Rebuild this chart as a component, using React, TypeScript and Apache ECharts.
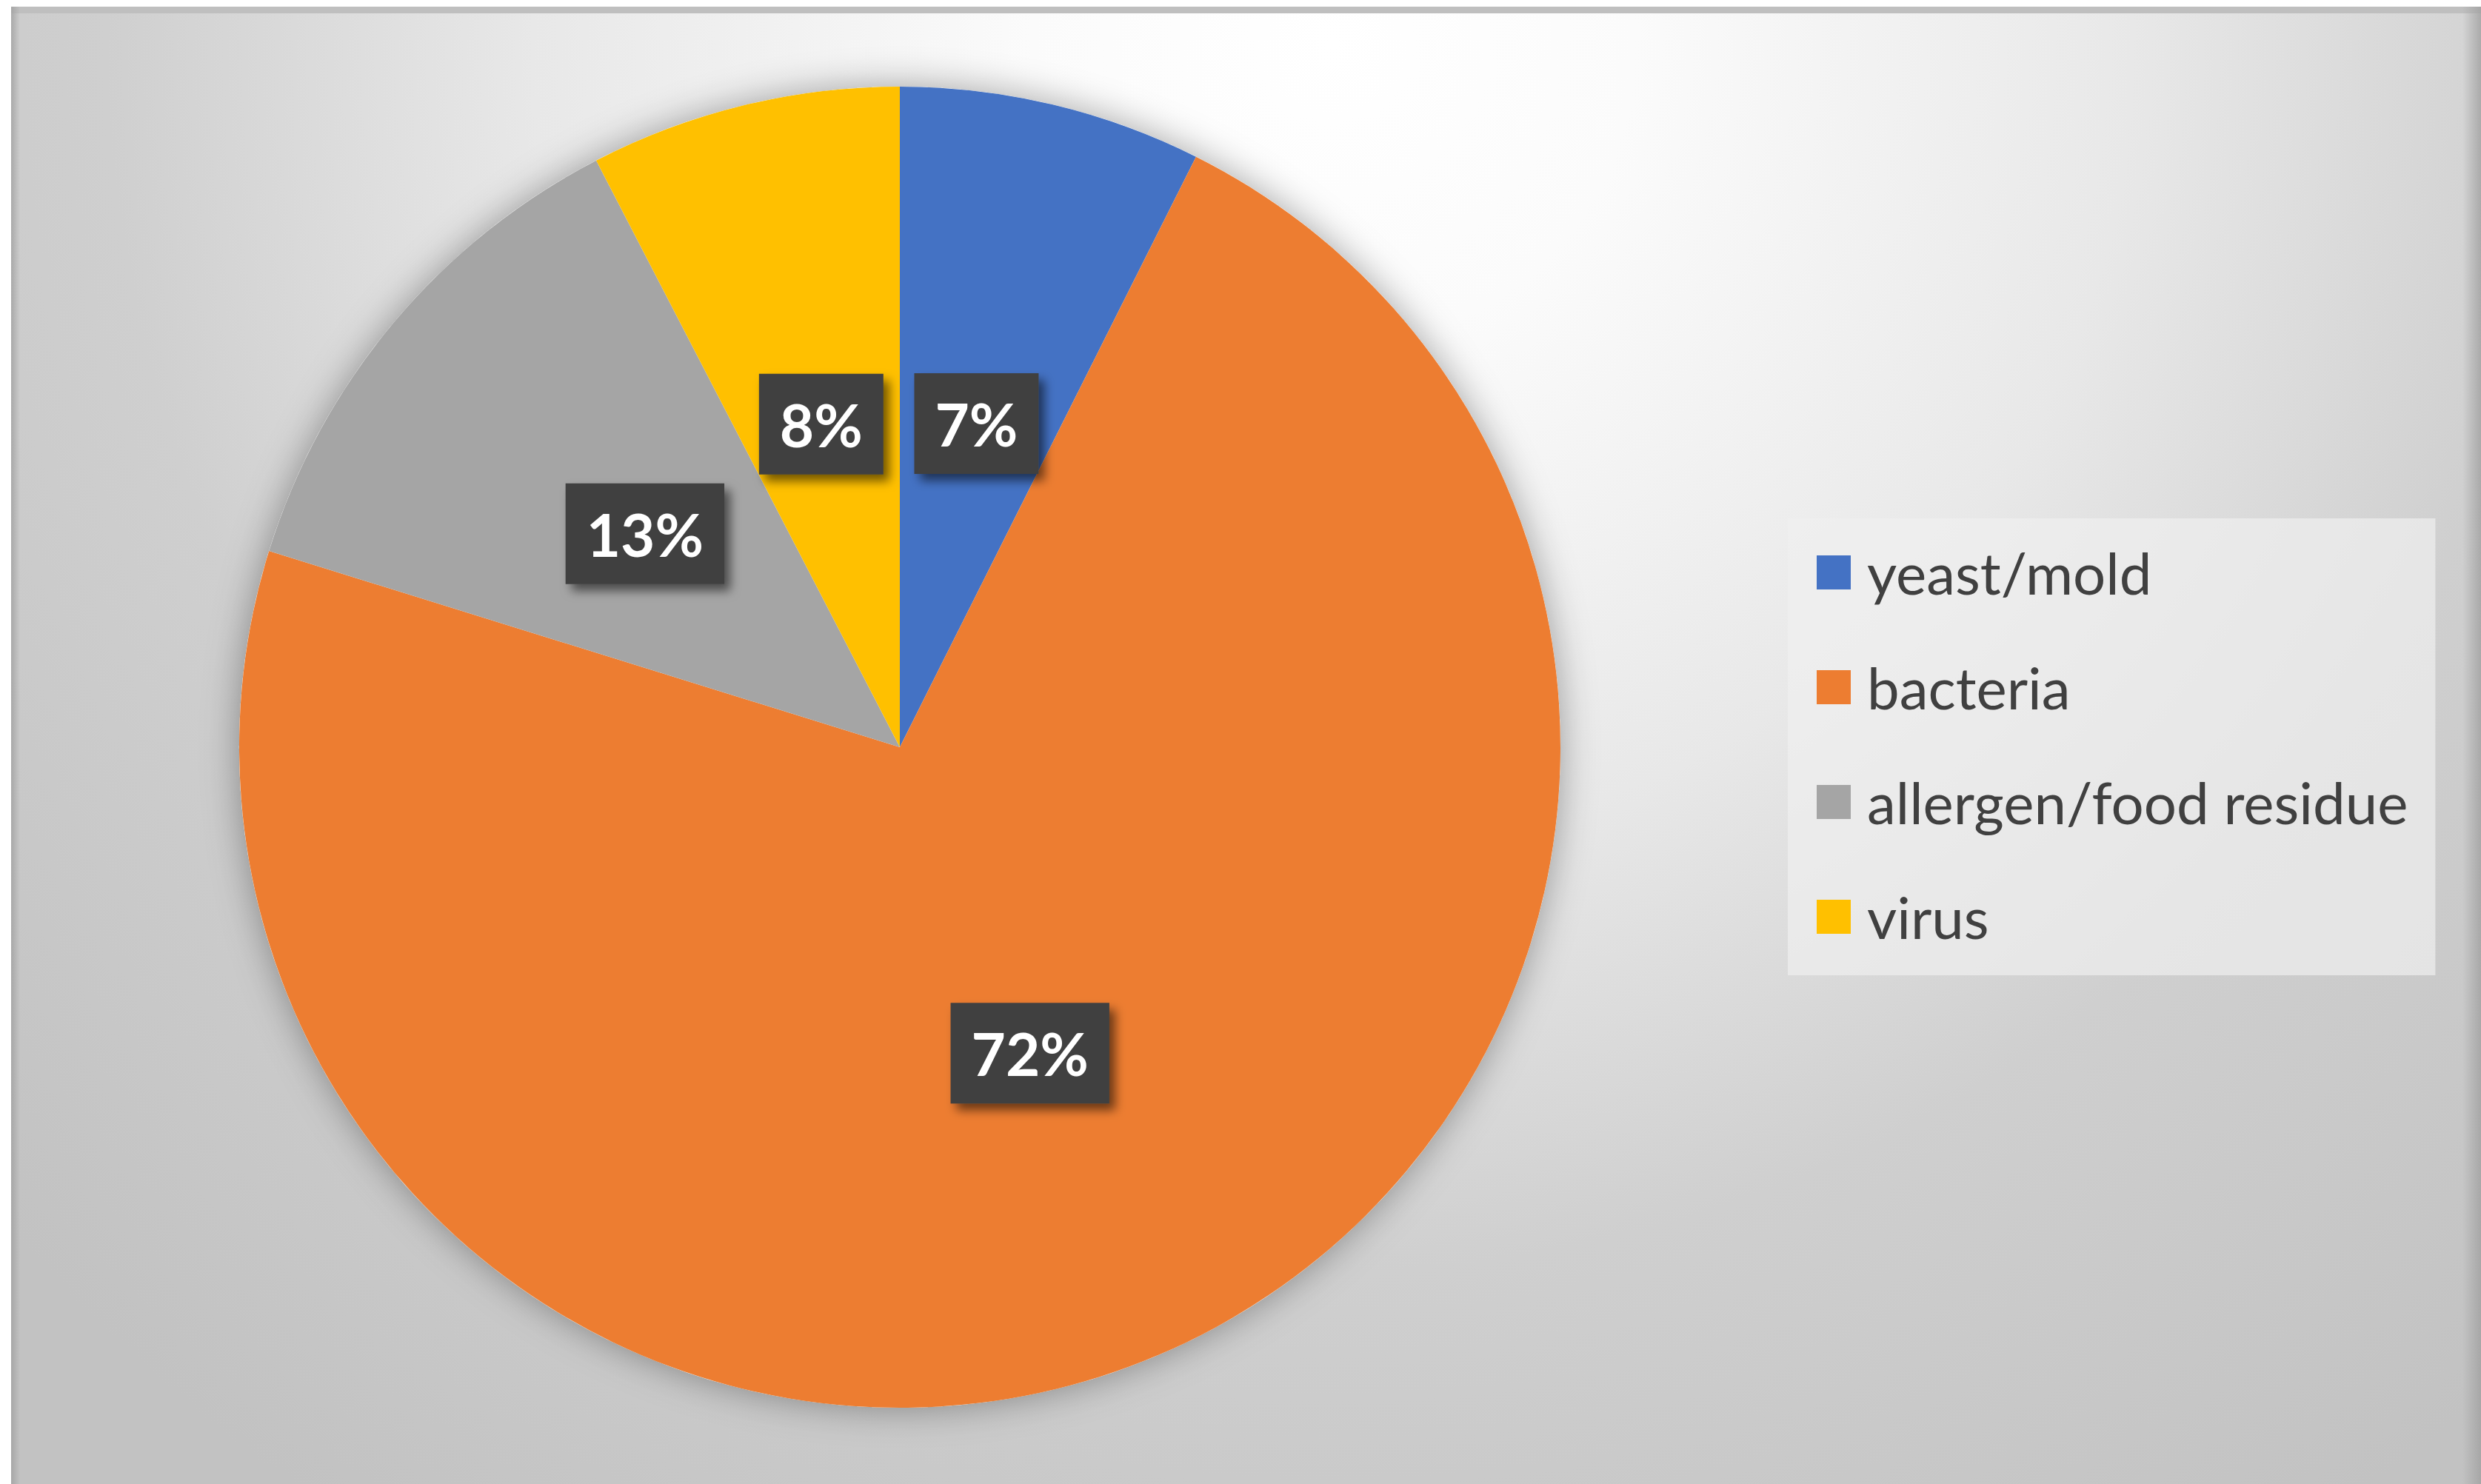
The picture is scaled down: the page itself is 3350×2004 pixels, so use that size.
import React, { useEffect, useRef } from 'react';
import * as echarts from 'echarts';

const categories = ['yeast/mold', 'bacteria', 'allergen/food residue', 'virus'];
const shares = [7.4, 72.4, 12.6, 7.6];
const colors = ['#4472C4', '#ED7D31', '#A5A5A5', '#FFC000'];

const PIE_CENTER = [1215, 1009];
const PIE_RADIUS = 892;

export default function App() {
  const ref = useRef<HTMLDivElement>(null);
  useEffect(() => {
    const chart = echarts.init(ref.current!, null, { renderer: 'svg' });
    chart.setOption({
      animation: false,
      textStyle: { fontFamily: 'Lato' },
      graphic: [
        {
          type: 'rect',
          z: -10,
          silent: true,
          shape: { x: 15, y: 9, width: 3335, height: 1995 },
          style: {
            fill: {
              type: 'radial',
              x: 1800,
              y: 60,
              r: 2400,
              global: true,
              colorStops: [
                { offset: 0, color: '#ffffff' },
                { offset: 0.17, color: '#fbfbfb' },
                { offset: 0.45, color: '#e8e8e8' },
                { offset: 0.69, color: '#cfcfcf' },
                { offset: 1, color: '#c2c2c2' },
              ],
            },
          },
        },
        {
          type: 'rect',
          z: -9,
          silent: true,
          shape: { x: 15, y: 9, width: 3335, height: 9 },
          style: { fill: '#bfbfbf' },
        },
        {
          type: 'rect',
          z: -9,
          silent: true,
          shape: { x: 15, y: 9, width: 12, height: 1995 },
          style: {
            fill: {
              type: 'linear', x: 0, y: 0, x2: 1, y2: 0,
              colorStops: [
                { offset: 0, color: 'rgba(160,160,160,0.8)' },
                { offset: 1, color: 'rgba(160,160,160,0)' },
              ],
            },
          },
        },
        {
          type: 'rect',
          z: -9,
          silent: true,
          shape: { x: 3325, y: 9, width: 25, height: 1995 },
          style: {
            fill: {
              type: 'linear', x: 0, y: 0, x2: 1, y2: 0,
              colorStops: [
                { offset: 0, color: 'rgba(160,160,160,0)' },
                { offset: 1, color: 'rgba(160,160,160,0.8)' },
              ],
            },
          },
        },
      ],
      legend: {
        orient: 'vertical',
        left: 2414,
        top: 700,
        data: categories,
        selectedMode: false,
        icon: 'rect',
        itemWidth: 46,
        itemHeight: 46,
        itemGap: 75,
        padding: [33, 37, 39, 39],
        backgroundColor: 'rgba(240,240,240,0.7)',
        textStyle: {
          fontFamily: 'Lato',
          fontSize: 78,
          lineHeight: 80,
          color: '#404040',
          padding: [0, 0, 0, 17],
        },
      },
      series: [
        {
          type: 'pie',
          name: 'shadow',
          silent: true,
          z: 1,
          center: PIE_CENTER,
          radius: PIE_RADIUS,
          legendHoverLink: false,
          data: [{ value: 1, name: '_bg' }],
          label: { show: false },
          labelLine: { show: false },
          itemStyle: {
            color: '#ffffff',
            shadowBlur: 50,
            shadowColor: 'rgba(0,0,0,0.35)',
          },
        },
        {
          type: 'pie',
          z: 2,
          center: PIE_CENTER,
          radius: PIE_RADIUS,
          startAngle: 90,
          clockwise: true,
          avoidLabelOverlap: false,
          data: categories.map((n, i) => ({
            name: n,
            value: shares[i],
            itemStyle: { color: colors[i] },
          })),
          label: {
            show: true,
            position: 'inside',
            formatter: (p: any) => Math.round(p.percent) + '%',
            color: '#ffffff',
            fontFamily: 'Lato',
            fontWeight: 'bold',
            fontSize: 80,
            lineHeight: 80,
            backgroundColor: '#404040',
            padding: [28, 28],
            shadowColor: 'rgba(0,0,0,0.55)',
            shadowBlur: 14,
            shadowOffsetX: 8,
            shadowOffsetY: 9,
          },
          labelLine: { show: false },
          emphasis: { disabled: true },
        },
      ],
    });
    return () => chart.dispose();
  }, []);
  return (
    <div
      ref={ref}
      style={{ position: 'fixed', left: 0, top: 0, width: 3350, height: 2004, background: '#ffffff' }}
    />
  );
}
